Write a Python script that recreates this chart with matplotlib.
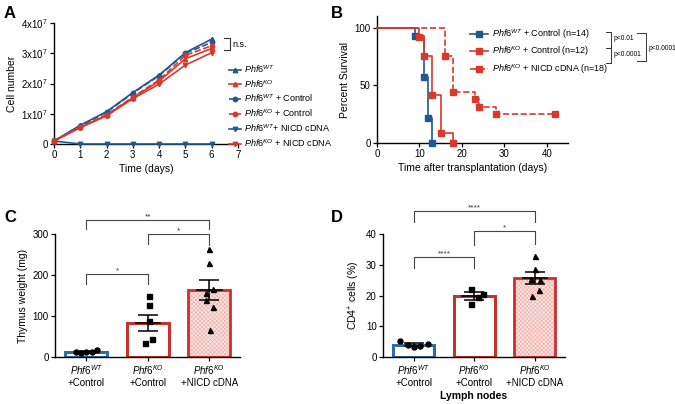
import numpy as np
import matplotlib
matplotlib.use("Agg")
import matplotlib.pyplot as plt
from matplotlib.lines import Line2D

plt.rcParams["font.family"] = ["Liberation Sans", "DejaVu Sans"]
plt.rcParams["mathtext.fontset"] = "custom"
plt.rcParams["mathtext.rm"] = "Liberation Sans"
plt.rcParams["mathtext.it"] = "Liberation Sans:italic"
plt.rcParams["hatch.linewidth"] = 0.5

BLUE = "#215892"
RED = "#d8392b"
BAR_BLUE = "#2f6aa3"
BAR_RED = "#c9302a"

# --- A: proliferation curves -------------------------------------------------
days = [0, 1, 2, 3, 4, 5, 6]
wt = [0.10, 0.62, 1.07, 1.70, 2.28, 3.02, 3.47]
ko = [0.10, 0.55, 0.95, 1.53, 2.08, 2.82, 3.16]
wt_ctrl = [0.10, 0.60, 1.05, 1.68, 2.26, 3.00, 3.36]
ko_ctrl = [0.10, 0.56, 0.97, 1.55, 2.12, 2.93, 3.25]
wt_nicd = [0.10, 0.0, 0.0, 0.0, 0.0, 0.0, 0.0]
ko_nicd = [0.10, 0.54, 0.93, 1.50, 1.98, 2.61, 3.02]

# --- B: Kaplan-Meier (time, % survival) ---------------------------------------
km_wt_t = [0, 9, 11, 12, 13]
km_wt_s = [100, 92.9, 57.1, 21.4, 0]
km_ko_t = [0, 10, 11, 13, 15, 18]
km_ko_s = [100, 91.7, 75.0, 41.7, 8.3, 0]
km_nicd_t = [0, 16, 18, 23, 24, 28, 42]
km_nicd_s = [100, 75.0, 44.0, 38.0, 31.0, 25.0, 25.0]

# --- C / D: bar + scatter -----------------------------------------------------
groups = ["$\\mathit{Phf6}^{\\mathit{WT}}$\n+Control",
          "$\\mathit{Phf6}^{\\mathit{KO}}$\n+Control",
          "$\\mathit{Phf6}^{\\mathit{KO}}$\n+NICD cDNA"]
thy_mean = [12, 83, 163]
thy_sem = [3, 20, 24]
thy_pts = [[13, 9, 11, 12, 16],
           [150, 126, 88, 44, 33],
           [263, 230, 157, 165, 140, 123, 66]]
thy_dx = [[-0.17, -0.08, 0.0, 0.09, 0.18],
          [0.02, 0.02, 0.02, 0.07, -0.04],
          [0.0, 0.0, -0.06, 0.06, -0.05, 0.06, 0.01]]
cd4_mean = [4.0, 19.8, 25.7]
cd4_sem = [0.4, 1.2, 1.8]
cd4_pts = [[5.3, 3.8, 3.4, 3.5, 4.3],
           [22.0, 17.2, 19.4, 20.6],
           [32.8, 28.5, 25.3, 25.0, 21.8, 19.8]]
cd4_dx = [[-0.23, -0.1, 0.0, 0.11, 0.23],
          [-0.05, -0.05, 0.06, 0.14],
          [0.01, 0.01, -0.06, 0.08, 0.07, -0.05]]
pt_markers = ["o", "s", "^"]


def px(x, y):
    return x / 675, 1 - y / 404


def fig_line(fig, xs, ys, **kw):
    pts = [px(x, y) for x, y in zip(xs, ys)]
    fig.add_artist(Line2D([p[0] for p in pts], [p[1] for p in pts],
                          transform=fig.transFigure, **kw))


def style(ax):
    for s in ["top", "right"]:
        ax.spines[s].set_visible(False)
    for s in ["left", "bottom"]:
        ax.spines[s].set_linewidth(1.0)
    ax.tick_params(labelsize=7, length=3, width=0.9, pad=1.5)


def bracket(ax, x1, x2, y, l1, l2, txt):
    ax.plot([x1, x1, x2, x2], [l1, y, y, l2], color="#444444", lw=0.8,
            clip_on=False)
    ax.text((x1 + x2) / 2, y, txt, ha="center", va="bottom", fontsize=6,
            color="#333333")


fig = plt.figure(figsize=(6.75, 4.04), dpi=100)

# Panel A
axA = fig.add_axes([54 / 675, 1 - 144 / 404, 184 / 675, 121 / 404])
style(axA)
series = [(wt, BLUE, "^", "-", "$\\mathit{Phf6}^{\\mathit{WT}}$"),
          (ko, RED, "^", "-", "$\\mathit{Phf6}^{\\mathit{KO}}$"),
          (wt_ctrl, BLUE, "o", "--", "$\\mathit{Phf6}^{\\mathit{WT}}$ + Control"),
          (ko_ctrl, RED, "o", "--", "$\\mathit{Phf6}^{\\mathit{KO}}$ + Control"),
          (wt_nicd, BLUE, "v", "-", "$\\mathit{Phf6}^{\\mathit{WT}}$+ NICD cDNA"),
          (ko_nicd, RED, "v", "-", "$\\mathit{Phf6}^{\\mathit{KO}}$ + NICD cDNA")]
for vals, c, m, ls, lab in series:
    axA.plot(days, np.array(vals) * 1e7, color=c, marker=m, ls=ls, lw=1.2,
             ms=3.2, label=lab, clip_on=False, zorder=3)
axA.set_xlim(0, 7)
axA.set_ylim(0, 4e7)
axA.set_xticks(range(8))
axA.set_yticks([0, 1e7, 2e7, 3e7, 4e7])
axA.set_yticklabels(["0", "1x10$^7$", "2x10$^7$", "3x10$^7$", "4x10$^7$"])
axA.set_xlabel("Time (days)", fontsize=7.5, labelpad=3)
axA.set_ylabel("Cell number", fontsize=7.5, labelpad=3)
axA.plot([6.45, 6.68, 6.68, 6.45], [3.49e7, 3.49e7, 3.12e7, 3.12e7],
         color="#333333", lw=0.8, clip_on=False)
axA.text(6.78, 3.3e7, "n.s.", fontsize=6.5, va="center", ha="left")
axA.legend(loc="upper left", bbox_to_anchor=px(229, 63), bbox_transform=fig.transFigure,
           frameon=False, fontsize=6.5, handlelength=1.3, handletextpad=0.4,
           labelspacing=0.35, borderaxespad=0, borderpad=0)

# Panel B
axB = fig.add_axes([377 / 675, 1 - 143 / 404, 191 / 675, 127 / 404])
style(axB)
km = [(km_wt_t, km_wt_s, BLUE, "-", "$\\mathit{Phf6}^{\\mathit{WT}}$ + Control (n=14)"),
      (km_ko_t, km_ko_s, RED, "-", "$\\mathit{Phf6}^{\\mathit{KO}}$ + Control (n=12)"),
      (km_nicd_t, km_nicd_s, RED, "--", "$\\mathit{Phf6}^{\\mathit{KO}}$ + NICD cDNA (n=18)")]
for t, s, c, ls, lab in km:
    axB.step(t, s, where="post", color=c, ls=ls, lw=1.2, clip_on=False, zorder=3)
    axB.plot(t[1:], s[1:], ls="none", marker="s", ms=4.5, color=c,
             clip_on=False, zorder=4)
    axB.plot([], [], color=c, ls=ls, lw=1.2, marker="s", ms=4, label=lab)
axB.set_xlim(0, 45)
axB.set_ylim(0, 110)
axB.set_xticks([0, 10, 20, 30, 40])
axB.set_yticks([0, 50, 100])
axB.set_xlabel("Time after transplantation (days)", fontsize=7.5, labelpad=3)
axB.set_ylabel("Percent Survival", fontsize=7.5, labelpad=3)
axB.legend(loc="upper left", bbox_to_anchor=px(470, 27), bbox_transform=fig.transFigure,
           frameon=False, fontsize=6.5, handlelength=2.0, handletextpad=0.4,
           labelspacing=0.45, borderaxespad=0, borderpad=0)
fig_line(fig, [606, 611, 611, 606], [32, 32, 63, 63], color="#333333", lw=0.7)
fig_line(fig, [606, 611], [47.5, 47.5], color="#333333", lw=0.7)
fig_line(fig, [637, 646, 646, 637], [33, 33, 61, 61], color="#333333", lw=0.7)
fig.text(*px(614, 39), "p<0.01", fontsize=4.8, va="center")
fig.text(*px(614, 55), "p<0.0001", fontsize=4.8, va="center")
fig.text(*px(648.5, 48), "p<0.0001", fontsize=4.8, va="center")


def bar_panel(ax, means, sems, pts, dxs):
    x = np.arange(3)
    edges = [BAR_BLUE, BAR_RED, BAR_RED]
    ax.bar(x[2], means[2], width=0.68, color="#fce6e4", edgecolor="#eeb2ad",
           hatch="xxxxxxxx", lw=0, zorder=1)
    ax.bar(x, means, width=0.68, facecolor="none", edgecolor=edges, lw=2.0,
           zorder=2)
    ax.bar(x[:2], means[:2], width=0.68, facecolor="white", edgecolor=edges[:2],
           lw=2.0, zorder=1)
    for i in range(3):
        ax.plot(x[i] + np.array(dxs[i]), pts[i], ls="none", marker=pt_markers[i],
                color="black", ms=3.6, zorder=4, clip_on=False)
    ax.errorbar(x, means, yerr=sems, fmt="none", ecolor="black",
                elinewidth=1.1, capsize=7.5, capthick=1.1, zorder=5)
    for i in range(1, 3):
        ax.plot([x[i] - 0.2, x[i] + 0.2], [means[i]] * 2, color="black",
                lw=1.1, zorder=5)
    ax.set_xticks(x)
    ax.set_xticklabels(groups, fontsize=7, linespacing=1.15)
    ax.set_xlim(-0.51, 2.5)


# Panel C
axC = fig.add_axes([55 / 675, 1 - 357 / 404, 185 / 675, 123 / 404])
style(axC)
bar_panel(axC, thy_mean, thy_sem, thy_pts, thy_dx)
axC.set_ylim(0, 300)
axC.set_yticks([0, 100, 200, 300])
axC.set_ylabel("Thymus weight (mg)", fontsize=7.5, labelpad=3)
bracket(axC, 0, 2, 334, 312, 312, "**")
bracket(axC, 1, 2, 300, 276, 274, "*")
bracket(axC, 0, 1, 202, 178, 178, "*")

# Panel D
axD = fig.add_axes([383 / 675, 1 - 357 / 404, 182 / 675, 123 / 404])
style(axD)
bar_panel(axD, cd4_mean, cd4_sem, cd4_pts, cd4_dx)
axD.set_ylim(0, 40)
axD.set_yticks([0, 10, 20, 30, 40])
axD.set_ylabel("CD4$^{+}$ cells (%)", fontsize=7.5, labelpad=3)
axD.set_xlabel("Lymph nodes", fontsize=7.5, fontweight="bold", labelpad=2)
bracket(axD, 0, 2, 47.5, 43.9, 43.9, "****")
bracket(axD, 1, 2, 41, 36.4, 36.8, "*")
bracket(axD, 0, 1, 32.5, 29, 29, "****")

for lab, (x, y) in zip("ABCD", [(4, 13), (331, 13), (4, 218), (331, 218)]):
    fig.text(*px(x, y), lab, fontsize=12, fontweight="bold", va="center", ha="left")

fig.savefig("out.png", dpi=100)
